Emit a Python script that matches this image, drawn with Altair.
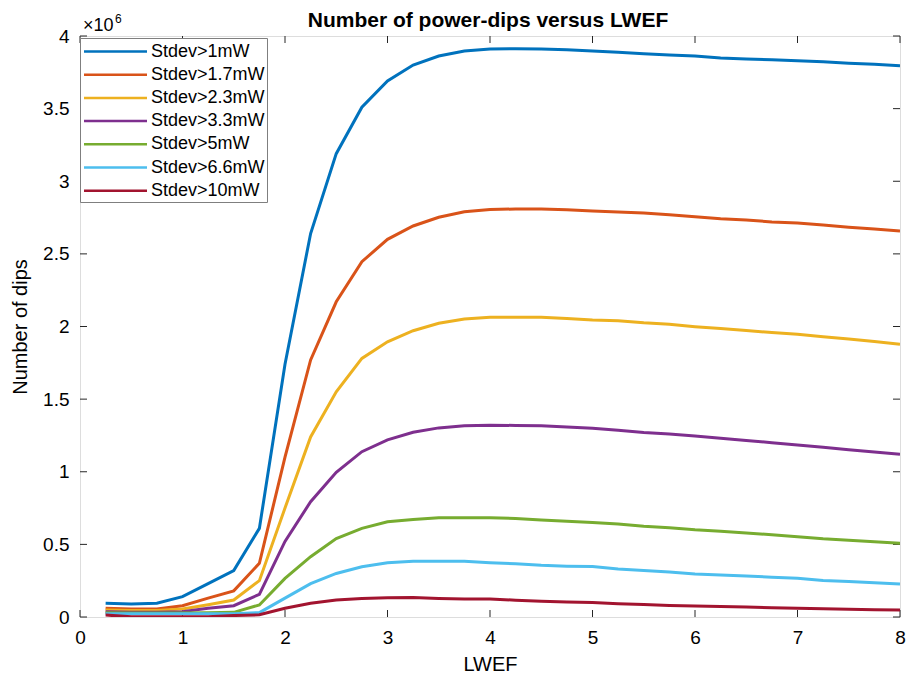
import altair as alt
import pandas as pd

lwef = [0.25, 0.5, 0.75, 1.0, 1.25, 1.5, 1.75, 2.0, 2.25, 2.5, 2.75, 3.0, 3.25, 3.5, 3.75, 4.0,
        4.25, 4.5, 4.75, 5.0, 5.25, 5.5, 5.75, 6.0, 6.25, 6.5, 6.75, 7.0, 7.25, 7.5, 7.75, 8.0]

# Number of dips, in units of 10^6
s_1mW = [0.095, 0.09, 0.095, 0.14, 0.23, 0.32, 0.61, 1.74, 2.64, 3.19, 3.51, 3.69, 3.80, 3.862, 3.897, 3.911,
         3.912, 3.911, 3.905, 3.897, 3.888, 3.878, 3.870, 3.862, 3.848, 3.842, 3.836, 3.830, 3.822, 3.813, 3.805, 3.796]
s_1_7mW = [0.06, 0.055, 0.055, 0.078, 0.13, 0.18, 0.37, 1.10, 1.77, 2.17, 2.446, 2.60, 2.692, 2.752, 2.79, 2.805,
           2.809, 2.809, 2.803, 2.795, 2.788, 2.781, 2.770, 2.756, 2.742, 2.733, 2.720, 2.712, 2.698, 2.684, 2.672, 2.657]
s_2_3mW = [0.048, 0.045, 0.045, 0.055, 0.085, 0.117, 0.25, 0.75, 1.24, 1.55, 1.78, 1.895, 1.971, 2.022, 2.052, 2.063,
           2.064, 2.063, 2.055, 2.045, 2.040, 2.025, 2.015, 1.999, 1.986, 1.972, 1.958, 1.946, 1.930, 1.914, 1.897, 1.877]
s_3_3mW = [0.037, 0.032, 0.032, 0.037, 0.06, 0.078, 0.156, 0.52, 0.794, 0.996, 1.138, 1.22, 1.272, 1.302, 1.316, 1.32,
           1.319, 1.317, 1.308, 1.299, 1.285, 1.270, 1.260, 1.246, 1.230, 1.215, 1.200, 1.184, 1.168, 1.152, 1.136, 1.12]
s_5mW = [0.03, 0.028, 0.028, 0.028, 0.03, 0.032, 0.083, 0.266, 0.415, 0.54, 0.61, 0.656, 0.672, 0.684, 0.684, 0.684,
         0.678, 0.668, 0.660, 0.650, 0.640, 0.625, 0.615, 0.600, 0.590, 0.578, 0.566, 0.553, 0.538, 0.528, 0.518, 0.507]
s_6_6mW = [0.023, 0.022, 0.022, 0.022, 0.022, 0.023, 0.03, 0.13, 0.23, 0.30, 0.346, 0.374, 0.383, 0.383, 0.383, 0.374,
           0.366, 0.356, 0.350, 0.347, 0.330, 0.320, 0.310, 0.296, 0.290, 0.282, 0.274, 0.266, 0.252, 0.244, 0.236, 0.227]
s_10mW = [0.013, 0.002, 0.002, 0.002, 0.002, 0.01, 0.015, 0.06, 0.094, 0.117, 0.128, 0.132, 0.134, 0.128, 0.124, 0.124,
          0.116, 0.108, 0.103, 0.099, 0.092, 0.086, 0.080, 0.076, 0.072, 0.068, 0.064, 0.060, 0.057, 0.053, 0.050, 0.048]

labels = ["Stdev>1mW", "Stdev>1.7mW", "Stdev>2.3mW", "Stdev>3.3mW", "Stdev>5mW", "Stdev>6.6mW", "Stdev>10mW"]
colors = ["#0072BD", "#D95319", "#EDB120", "#7E2F8E", "#77AC30", "#4DBEEE", "#A2142F"]
series = [s_1mW, s_1_7mW, s_2_3mW, s_3_3mW, s_5mW, s_6_6mW, s_10mW]

x_ticks = [0, 1, 2, 3, 4, 5, 6, 7, 8]
y_ticks = [0, 0.5, 1, 1.5, 2, 2.5, 3, 3.5, 4]

title_text = "Number of power-dips versus LWEF"
x_title = "LWEF"
y_title = "Number of dips"

rows = []
for lab, vals in zip(labels, series):
    for xv, yv in zip(lwef, vals):
        rows.append({"LWEF": xv, "dips": yv, "series": lab})
df = pd.DataFrame(rows)

W, H = 820, 581
FONT = "Liberation Sans"
AX = "#262626"
TICK = 7

x_enc = alt.X("LWEF:Q", scale=alt.Scale(domain=[0, 8], nice=False, zero=False),
              axis=alt.Axis(values=x_ticks, title=x_title, grid=False, ticks=False, domain=False,
                            format="~g",
                            labelFontSize=19, labelFont=FONT, labelColor="#000000", labelPadding=11,
                            titleFontSize=20, titleFont=FONT, titleFontWeight="normal",
                            titleColor="#000000", titlePadding=7, labelFlush=False))
y_enc = alt.Y("dips:Q", scale=alt.Scale(domain=[0, 4], nice=False),
              axis=alt.Axis(values=y_ticks, title=y_title, grid=False, ticks=False, domain=False,
                            format="~g",
                            labelFontSize=19, labelFont=FONT, labelColor="#000000", labelPadding=11,
                            titleFontSize=20, titleFont=FONT, titleFontWeight="normal",
                            titleColor="#000000", titlePadding=12, labelFlush=False))

lines = alt.Chart(df).mark_line(strokeWidth=3, clip=True).encode(
    x=x_enc,
    y=y_enc,
    color=alt.Color("series:N", scale=alt.Scale(domain=labels, range=colors),
                    legend=alt.Legend(title=None, orient="none", legendX=0, legendY=2,
                                      symbolType="M-0.95,0H5.35", symbolSize=400,
                                      symbolStrokeWidth=2.5, labelOffset=46, padding=2,
                                      rowPadding=2.2, labelFontSize=18, labelFont=FONT,
                                      labelColor="#000000", strokeColor="#7f7f7f",
                                      fillColor="#ffffff",
                                      labelExpr="datum.label + '\u00a0'")),
    detail="series:N",
)

xt = pd.DataFrame({"LWEF": x_ticks})
yt = pd.DataFrame({"dips": y_ticks})

xb = alt.Chart(xt).mark_rule(color=AX, strokeWidth=1).encode(
    x=x_enc, y=alt.value(H), y2=alt.value(H - TICK))
xtp = alt.Chart(xt).mark_rule(color=AX, strokeWidth=1).encode(
    x=x_enc, y=alt.value(0), y2=alt.value(TICK))
yl = alt.Chart(yt).mark_rule(color=AX, strokeWidth=1).encode(
    y=y_enc, x=alt.value(0), x2=alt.value(TICK))
yr = alt.Chart(yt).mark_rule(color=AX, strokeWidth=1).encode(
    y=y_enc, x=alt.value(W - TICK), x2=alt.value(W))

one = xt.head(1)
title_mark = alt.Chart(one).mark_text(align="center", baseline="alphabetic", fontSize=21,
                                      fontWeight="bold", font=FONT, color="#000000").encode(
    x=alt.value(W / 2 - 2), y=alt.value(-9), text=alt.value(title_text))
exp_base = alt.Chart(one).mark_text(align="left", baseline="alphabetic", fontSize=18,
                                    font=FONT, color="#000000").encode(
    x=alt.value(3), y=alt.value(-5), text=alt.value("×10"))
exp_sup = alt.Chart(one).mark_text(align="left", baseline="alphabetic", fontSize=12,
                                   font=FONT, color="#000000").encode(
    x=alt.value(35), y=alt.value(-13), text=alt.value("6"))

chart = alt.layer(xb, xtp, yl, yr, lines, title_mark, exp_base, exp_sup).properties(
    width=W, height=H,
    autosize=alt.AutoSizeParams(type="none"),
    padding={"left": 80, "top": 36, "right": 19, "bottom": 57},
).configure_view(stroke=AX, strokeWidth=1).configure(background="#ffffff")

chart.save("out.html", embed_options={"renderer": "svg", "actions": False})
